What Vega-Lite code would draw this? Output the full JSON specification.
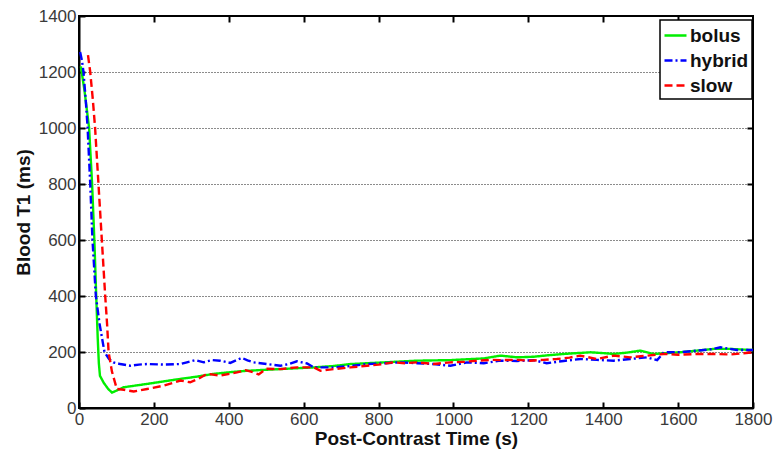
{
  "$schema": "https://vega.github.io/schema/vega-lite/v6.json",
  "autosize": {"type": "none"},
  "padding": {"left": 79, "top": 16, "right": 23, "bottom": 45},
  "width": 674,
  "height": 392,
  "config": {
    "font": "Liberation Sans",
    "view": {"stroke": "#000", "strokeWidth": 2},
    "axis": {
      "labelFont": "Liberation Sans",
      "labelFontSize": 17,
      "labelColor": "#3a3a3a",
      "titleFont": "Liberation Sans",
      "titleFontSize": 19,
      "titleFontWeight": "bold",
      "titleColor": "#111",
      "tickColor": "#000",
      "tickWidth": 2,
      "tickSize": -6,
      "domainColor": "#000",
      "domainWidth": 2,
      "labelPadding": 9,
      "labelFlush": false,
      "labelOverlap": false,
      "format": "d"
    },
    "legend": {
      "orient": "none",
      "legendX": 581,
      "legendY": 4,
      "title": null,
      "strokeColor": "#000",
      "strokeWidth": 1.5,
      "fillColor": "#fff",
      "padding": 3,
      "symbolType": "stroke",
      "symbolSize": 484,
      "symbolStrokeWidth": 2.4,
      "labelFont": "Liberation Sans",
      "labelFontSize": 19,
      "labelFontWeight": "bold",
      "labelColor": "#111",
      "labelOffset": 2,
      "rowPadding": 2
    }
  },
  "data": {
    "values": [
      {"m": "bolus", "t": 5, "v": 1220}, {"m": "bolus", "t": 15, "v": 1130}, {"m": "bolus", "t": 27, "v": 1000}, {"m": "bolus", "t": 35, "v": 800}, {"m": "bolus", "t": 41, "v": 600}, {"m": "bolus", "t": 46, "v": 400}, {"m": "bolus", "t": 50, "v": 250}, {"m": "bolus", "t": 53, "v": 160}, {"m": "bolus", "t": 56, "v": 115}, {"m": "bolus", "t": 66, "v": 90}, {"m": "bolus", "t": 78, "v": 68}, {"m": "bolus", "t": 88, "v": 55}, {"m": "bolus", "t": 100, "v": 62}, {"m": "bolus", "t": 119, "v": 74}, {"m": "bolus", "t": 150, "v": 80}, {"m": "bolus", "t": 182, "v": 86}, {"m": "bolus", "t": 226, "v": 95}, {"m": "bolus", "t": 271, "v": 104}, {"m": "bolus", "t": 315, "v": 112}, {"m": "bolus", "t": 360, "v": 122}, {"m": "bolus", "t": 404, "v": 128}, {"m": "bolus", "t": 449, "v": 133}, {"m": "bolus", "t": 493, "v": 136}, {"m": "bolus", "t": 538, "v": 139}, {"m": "bolus", "t": 582, "v": 142}, {"m": "bolus", "t": 627, "v": 145}, {"m": "bolus", "t": 680, "v": 150}, {"m": "bolus", "t": 725, "v": 157}, {"m": "bolus", "t": 770, "v": 160}, {"m": "bolus", "t": 814, "v": 163}, {"m": "bolus", "t": 858, "v": 166}, {"m": "bolus", "t": 903, "v": 169}, {"m": "bolus", "t": 947, "v": 170}, {"m": "bolus", "t": 992, "v": 171}, {"m": "bolus", "t": 1036, "v": 174}, {"m": "bolus", "t": 1081, "v": 177}, {"m": "bolus", "t": 1125, "v": 187}, {"m": "bolus", "t": 1170, "v": 181}, {"m": "bolus", "t": 1214, "v": 183}, {"m": "bolus", "t": 1250, "v": 188}, {"m": "bolus", "t": 1294, "v": 193}, {"m": "bolus", "t": 1330, "v": 196}, {"m": "bolus", "t": 1366, "v": 199}, {"m": "bolus", "t": 1400, "v": 196}, {"m": "bolus", "t": 1428, "v": 193}, {"m": "bolus", "t": 1465, "v": 198}, {"m": "bolus", "t": 1499, "v": 205}, {"m": "bolus", "t": 1535, "v": 193}, {"m": "bolus", "t": 1570, "v": 196}, {"m": "bolus", "t": 1606, "v": 199}, {"m": "bolus", "t": 1650, "v": 205}, {"m": "bolus", "t": 1695, "v": 211}, {"m": "bolus", "t": 1740, "v": 211}, {"m": "bolus", "t": 1770, "v": 209}, {"m": "bolus", "t": 1800, "v": 207},
      {"m": "hybrid", "t": 3, "v": 1271}, {"m": "hybrid", "t": 8, "v": 1240}, {"m": "hybrid", "t": 12, "v": 1200}, {"m": "hybrid", "t": 18, "v": 1100}, {"m": "hybrid", "t": 23, "v": 1000}, {"m": "hybrid", "t": 30, "v": 800}, {"m": "hybrid", "t": 36, "v": 600}, {"m": "hybrid", "t": 45, "v": 400}, {"m": "hybrid", "t": 55, "v": 300}, {"m": "hybrid", "t": 68, "v": 200}, {"m": "hybrid", "t": 80, "v": 175}, {"m": "hybrid", "t": 92, "v": 163}, {"m": "hybrid", "t": 110, "v": 157}, {"m": "hybrid", "t": 137, "v": 151}, {"m": "hybrid", "t": 160, "v": 155}, {"m": "hybrid", "t": 182, "v": 157}, {"m": "hybrid", "t": 226, "v": 155}, {"m": "hybrid", "t": 271, "v": 157}, {"m": "hybrid", "t": 288, "v": 163}, {"m": "hybrid", "t": 311, "v": 171}, {"m": "hybrid", "t": 333, "v": 163}, {"m": "hybrid", "t": 355, "v": 171}, {"m": "hybrid", "t": 377, "v": 169}, {"m": "hybrid", "t": 404, "v": 161}, {"m": "hybrid", "t": 435, "v": 179}, {"m": "hybrid", "t": 450, "v": 170}, {"m": "hybrid", "t": 466, "v": 163}, {"m": "hybrid", "t": 502, "v": 157}, {"m": "hybrid", "t": 538, "v": 151}, {"m": "hybrid", "t": 560, "v": 157}, {"m": "hybrid", "t": 582, "v": 167}, {"m": "hybrid", "t": 609, "v": 159}, {"m": "hybrid", "t": 627, "v": 145}, {"m": "hybrid", "t": 650, "v": 145}, {"m": "hybrid", "t": 680, "v": 145}, {"m": "hybrid", "t": 725, "v": 150}, {"m": "hybrid", "t": 769, "v": 157}, {"m": "hybrid", "t": 814, "v": 160}, {"m": "hybrid", "t": 858, "v": 163}, {"m": "hybrid", "t": 903, "v": 160}, {"m": "hybrid", "t": 947, "v": 157}, {"m": "hybrid", "t": 992, "v": 151}, {"m": "hybrid", "t": 1036, "v": 163}, {"m": "hybrid", "t": 1081, "v": 160}, {"m": "hybrid", "t": 1125, "v": 169}, {"m": "hybrid", "t": 1170, "v": 168}, {"m": "hybrid", "t": 1214, "v": 171}, {"m": "hybrid", "t": 1249, "v": 160}, {"m": "hybrid", "t": 1294, "v": 168}, {"m": "hybrid", "t": 1339, "v": 175}, {"m": "hybrid", "t": 1383, "v": 172}, {"m": "hybrid", "t": 1428, "v": 169}, {"m": "hybrid", "t": 1472, "v": 175}, {"m": "hybrid", "t": 1517, "v": 181}, {"m": "hybrid", "t": 1544, "v": 171}, {"m": "hybrid", "t": 1562, "v": 199}, {"m": "hybrid", "t": 1606, "v": 199}, {"m": "hybrid", "t": 1651, "v": 205}, {"m": "hybrid", "t": 1690, "v": 210}, {"m": "hybrid", "t": 1713, "v": 217}, {"m": "hybrid", "t": 1757, "v": 207}, {"m": "hybrid", "t": 1800, "v": 207},
      {"m": "slow", "t": 24, "v": 1260}, {"m": "slow", "t": 30, "v": 1200}, {"m": "slow", "t": 37, "v": 1100}, {"m": "slow", "t": 43, "v": 1000}, {"m": "slow", "t": 52, "v": 800}, {"m": "slow", "t": 61, "v": 600}, {"m": "slow", "t": 70, "v": 400}, {"m": "slow", "t": 75, "v": 300}, {"m": "slow", "t": 79, "v": 200}, {"m": "slow", "t": 88, "v": 130}, {"m": "slow", "t": 101, "v": 68}, {"m": "slow", "t": 120, "v": 65}, {"m": "slow", "t": 146, "v": 59}, {"m": "slow", "t": 182, "v": 68}, {"m": "slow", "t": 226, "v": 80}, {"m": "slow", "t": 271, "v": 98}, {"m": "slow", "t": 297, "v": 92}, {"m": "slow", "t": 320, "v": 105}, {"m": "slow", "t": 342, "v": 122}, {"m": "slow", "t": 377, "v": 116}, {"m": "slow", "t": 422, "v": 127}, {"m": "slow", "t": 445, "v": 135}, {"m": "slow", "t": 466, "v": 127}, {"m": "slow", "t": 480, "v": 120}, {"m": "slow", "t": 500, "v": 140}, {"m": "slow", "t": 538, "v": 139}, {"m": "slow", "t": 582, "v": 145}, {"m": "slow", "t": 627, "v": 145}, {"m": "slow", "t": 645, "v": 133}, {"m": "slow", "t": 680, "v": 139}, {"m": "slow", "t": 725, "v": 145}, {"m": "slow", "t": 769, "v": 151}, {"m": "slow", "t": 800, "v": 155}, {"m": "slow", "t": 840, "v": 163}, {"m": "slow", "t": 870, "v": 160}, {"m": "slow", "t": 903, "v": 163}, {"m": "slow", "t": 947, "v": 157}, {"m": "slow", "t": 992, "v": 163}, {"m": "slow", "t": 1030, "v": 165}, {"m": "slow", "t": 1063, "v": 169}, {"m": "slow", "t": 1100, "v": 172}, {"m": "slow", "t": 1125, "v": 171}, {"m": "slow", "t": 1170, "v": 172}, {"m": "slow", "t": 1205, "v": 169}, {"m": "slow", "t": 1240, "v": 172}, {"m": "slow", "t": 1276, "v": 175}, {"m": "slow", "t": 1310, "v": 180}, {"m": "slow", "t": 1339, "v": 187}, {"m": "slow", "t": 1383, "v": 175}, {"m": "slow", "t": 1428, "v": 187}, {"m": "slow", "t": 1472, "v": 181}, {"m": "slow", "t": 1517, "v": 187}, {"m": "slow", "t": 1562, "v": 193}, {"m": "slow", "t": 1600, "v": 190}, {"m": "slow", "t": 1651, "v": 193}, {"m": "slow", "t": 1695, "v": 193}, {"m": "slow", "t": 1740, "v": 191}, {"m": "slow", "t": 1770, "v": 195}, {"m": "slow", "t": 1800, "v": 199}
    ]
  },
  "layer": [
    {
      "mark": {"type": "line", "strokeWidth": 2.4, "clip": true},
      "encoding": {
        "x": {
          "field": "t", "type": "quantitative",
          "scale": {"domain": [0, 1800], "nice": false, "zero": false},
          "axis": {
            "orient": "bottom",
            "values": [0, 200, 400, 600, 800, 1000, 1200, 1400, 1600, 1800],
            "format": "d",
            "grid": false,
            "title": "Post-Contrast Time (s)",
            "titleBaseline": "alphabetic",
            "titleY": 36
          }
        },
        "y": {
          "field": "v", "type": "quantitative",
          "scale": {"domain": [0, 1400], "nice": false},
          "axis": {
            "orient": "left",
            "values": [0, 200, 400, 600, 800, 1000, 1200, 1400],
            "format": "d",
            "grid": true,
            "gridDash": [1, 2],
            "gridColor": "#000",
            "gridWidth": 1,
            "gridOpacity": 0.9,
            "title": "Blood T1 (ms)",
            "titleBaseline": "alphabetic",
            "titleX": -50,
            "titleY": 196,
            "titleAngle": 270
          }
        },
        "color": {
          "field": "m", "type": "nominal",
          "scale": {"domain": ["bolus", "hybrid", "slow"], "range": ["#00ee00", "#0000ff", "#ff0000"]}
        },
        "strokeDash": {
          "field": "m", "type": "nominal",
          "scale": {"domain": ["bolus", "hybrid", "slow"], "range": [[1, 0], [8, 3, 2, 3], [8, 4]]}
        }
      }
    },
    {
      "mark": {"type": "line", "strokeOpacity": 0, "opacity": 0},
      "encoding": {
        "x": {
          "field": "t", "type": "quantitative",
          "axis": {"orient": "top", "values": [200, 400, 600, 800, 1000, 1200, 1400, 1600], "labels": false, "title": null, "domain": false, "grid": false}
        },
        "y": {
          "field": "v", "type": "quantitative",
          "axis": {"orient": "right", "values": [200, 400, 600, 800, 1000, 1200], "labels": false, "title": null, "domain": false, "grid": false}
        }
      }
    }
  ],
  "resolve": {"axis": {"x": "independent", "y": "independent"}}
}
